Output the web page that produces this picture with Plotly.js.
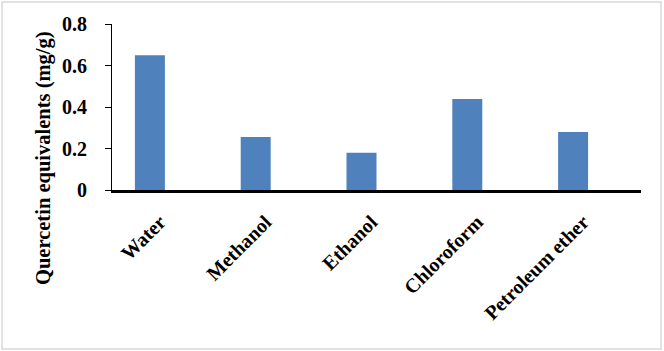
<!DOCTYPE html>
<html>
<head>
<meta charset="utf-8">
<script src="https://cdn.plot.ly/plotly-3.0.1.min.js"></script>
<style>html,body{margin:0;padding:0;background:#fff;}#chart{width:664px;height:351px;}</style>
</head>
<body>
<div id="chart"></div>
<script>
const categories = ["Water", "Methanol", "Ethanol", "Chloroform", "Petroleum ether"];
const values = [0.65, 0.256, 0.18, 0.438, 0.28];
const yTickVals = [0, 0.2, 0.4, 0.6, 0.8];
const yTickText = ["0", "0.2", "0.4", "0.6", "0.8"];
const yTitle = "Quercetin equivalents (mg/g)";

const W = 664, H = 351;
const m = {l: 112, r: 23, t: 24, b: 161};
const pw = W - m.l - m.r, ph = H - m.t - m.b;
const px = x => (x - m.l) / pw;
const py = y => (H - m.b - y) / ph;
const fam = "Liberation Serif, Times New Roman, serif";
const tf = {family: fam, size: 20, color: "#000", weight: "bold"};

const traces = [
  {type: "bar", x: categories, y: values, marker: {color: "#4F81BD"}, hoverinfo: "none"},
  {type: "bar", x: categories, y: categories.map(() => null), marker: {color: "#C0504D"}, hoverinfo: "none"}
];

const layout = {
  width: W, height: H,
  margin: m,
  paper_bgcolor: "#fff", plot_bgcolor: "#fff",
  showlegend: false,
  barmode: "group",
  bargap: 0.433, bargroupgap: 0,
  font: {family: fam, size: 20, color: "#000"},
  xaxis: {
    type: "category",
    showline: true, linecolor: "#000", linewidth: 2.5,
    ticks: "", showgrid: false, zeroline: false,
    tickangle: -45,
    ticklabelstandoff: 10,
    ticklabelshift: -5,
    tickfont: tf,
    fixedrange: true
  },
  yaxis: {
    range: [0, 0.8],
    tickvals: yTickVals, ticktext: yTickText,
    showline: true, linecolor: "#000", linewidth: 1,
    ticks: "outside", ticklen: 6, tickcolor: "#000", tickwidth: 1,
    ticklabelstandoff: 14,
    showgrid: false, zeroline: false,
    tickfont: tf,
    fixedrange: true
  },
  annotations: [{
    text: yTitle, xref: "paper", yref: "paper",
    x: px(43), y: py(158), textangle: -90, showarrow: false,
    xanchor: "center", yanchor: "middle",
    font: {family: fam, size: 20.5, color: "#000", weight: "bold"}
  }],
  shapes: [{
    type: "rect", xref: "paper", yref: "paper",
    x0: px(2), x1: px(661), y0: py(349), y1: py(2),
    line: {color: "#d9d9d9", width: 1.5}, fillcolor: "rgba(0,0,0,0)", layer: "below"
  }]
};

Plotly.newPlot("chart", traces, layout, {displayModeBar: false, staticPlot: true});
</script>
</body>
</html>
